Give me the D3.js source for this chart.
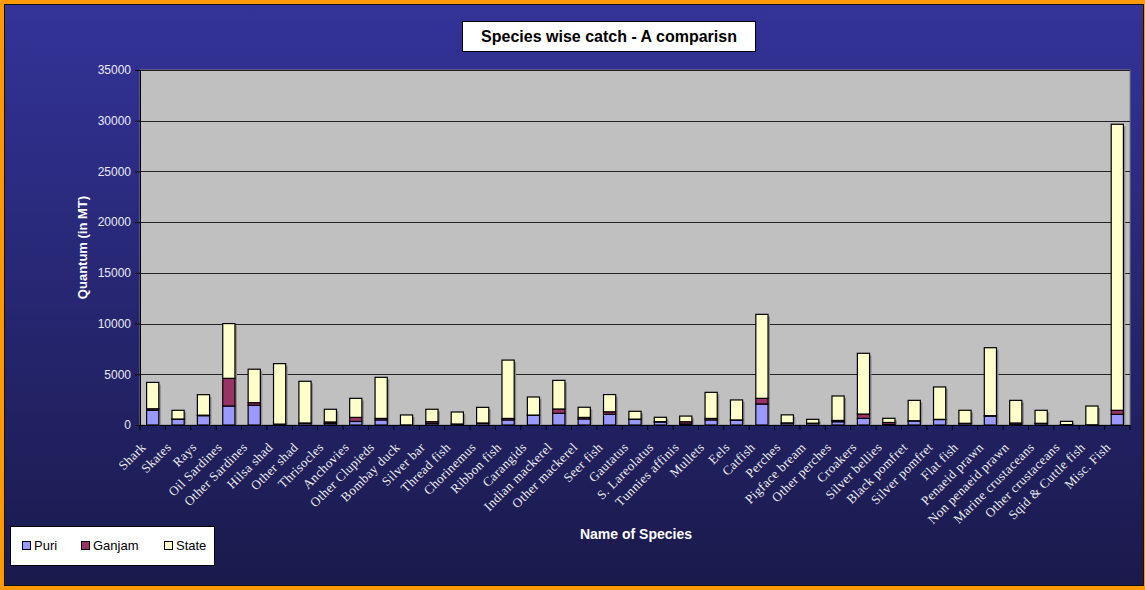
<!DOCTYPE html>
<html>
<head>
<meta charset="utf-8">
<script src="https://cdn.jsdelivr.net/npm/d3@7"></script>
<style>
  body { margin: 0; background: #ff9900; }
  svg { display: block; }
</style>
</head>
<body>
<svg id="chart" width="1145" height="590"></svg>
<script>
// species on the x axis
var species = ["Shark", "Skates", "Rays", "Oil Sardines", "Other Sardines", "Hilsa shad", "Other shad",
  "Thrisocles", "Anchovies", "Other Clupieds", "Bombay duck", "Silver bar", "Thread fish", "Chorinemus",
  "Ribbon fish", "Carangids", "Indian mackerel", "Other mackerel", "Seer fish", "Gautatus", "S. Lareolatus",
  "Tunnies affinis", "Mullets", "Eels", "Catfish", "Perches", "Pigface bream", "Other perches", "Croakers",
  "Silver bellies", "Black pomfret", "Silver pomfret", "Flat fish", "Penaeid prawn", "Non penaeid prawn",
  "Marine crustaceans", "Other crustaceans", "Sqid & Cuttle fish", "Misc. Fish"];

var puri   = [1450, 560, 920, 1870, 1950, 30, 180, 150, 350, 500, 0, 150, 80, 180,
  500, 950, 1150, 600, 1050, 550, 300, 100, 500, 480, 2070, 200, 170, 320, 650,
  50, 400, 540, 150, 880, 30, 150, 30, 0, 1050];
var ganjam = [150, 30, 50, 2730, 250, 60, 20, 150, 400, 150, 10, 180, 20, 20,
  150, 30, 430, 150, 250, 30, 30, 220, 150, 20, 560, 10, 10, 130, 430,
  200, 20, 20, 20, 40, 170, 20, 10, 20, 400];
var state  = [2600, 860, 2020, 5400, 3300, 5960, 4110, 1250, 1880, 4050, 980, 1220, 1180, 1540,
  5750, 1780, 2820, 1000, 1700, 770, 430, 560, 2570, 1970, 8280, 790, 380, 2410, 5990,
  410, 2010, 3190, 1280, 6700, 2230, 1280, 320, 1850, 28200];

var seriesNames = ["Puri", "Ganjam", "State"];
var seriesColors = ["#9999ff", "#993366", "#ffffcc"];
var yTicks = [0, 5000, 10000, 15000, 20000, 25000, 30000, 35000];

var svg = d3.select("#chart");
var W = 1145, H = 590;

// background with gradient
var defs = svg.append("defs");
var grad = defs.append("linearGradient").attr("id", "bg").attr("x1", 0).attr("y1", 0).attr("x2", 0).attr("y2", 1);
grad.append("stop").attr("offset", "0%").attr("stop-color", "#333399");
grad.append("stop").attr("offset", "100%").attr("stop-color", "#1a1a4c");

svg.append("rect").attr("x", 0).attr("y", 0).attr("width", W).attr("height", H).attr("fill", "#ff9900");
svg.append("rect").attr("x", 4.5).attr("y", 4.5).attr("width", W - 6).attr("height", H - 9)
  .attr("fill", "url(#bg)").attr("stroke", "#111").attr("stroke-width", 1);

var margin = {left: 140, right: 1130, top: 70, bottom: 425};

var x = d3.scaleBand().domain(species).range([margin.left, margin.right]).paddingInner(0.52).paddingOuter(0.26);
var y = d3.scaleLinear().domain([0, 35000]).range([margin.bottom, margin.top]);

// plot area
svg.append("rect").attr("x", margin.left).attr("y", margin.top)
  .attr("width", margin.right - margin.left).attr("height", margin.bottom - margin.top)
  .attr("fill", "#c0c0c0").attr("stroke", "#808080").attr("stroke-width", 1);

// gridlines
svg.append("g").selectAll("line").data(yTicks.slice(1)).enter().append("line")
  .attr("x1", margin.left).attr("x2", margin.right)
  .attr("y1", function(d){ return Math.round(y(d)) + 0.5; })
  .attr("y2", function(d){ return Math.round(y(d)) + 0.5; })
  .attr("stroke", "#222").attr("stroke-width", 1);

// stacked data
var rows = species.map(function(s, i){ return {name: s, Puri: puri[i], Ganjam: ganjam[i], State: state[i]}; });
var stack = d3.stack().keys(seriesNames)(rows);

// bar shadows
svg.append("g").selectAll("rect").data(rows).enter().append("rect")
  .attr("x", function(d){ return x(d.name) + 2; })
  .attr("y", function(d){ return y(d.Puri + d.Ganjam + d.State) + 2; })
  .attr("width", x.bandwidth())
  .attr("height", function(d){ return y(0) - y(d.Puri + d.Ganjam + d.State) - 2; })
  .attr("fill", "#8a8a8a");

svg.append("g").selectAll("g").data(stack).enter().append("g")
  .attr("fill", function(d, i){ return seriesColors[i]; })
  .selectAll("rect").data(function(d){ return d; }).enter().append("rect")
  .attr("x", function(d){ return x(d.data.name); })
  .attr("y", function(d){ return y(d[1]); })
  .attr("width", x.bandwidth())
  .attr("height", function(d){ return Math.max(0, y(d[0]) - y(d[1])); })
  .attr("stroke", "#000").attr("stroke-width", 1.2);

// y axis
var yAxis = svg.append("g").attr("transform", "translate(" + margin.left + ",0)")
  .call(d3.axisLeft(y).tickValues(yTicks).tickSize(5).tickPadding(4).tickFormat(d3.format("d")));
yAxis.select(".domain").attr("stroke", "#000");
yAxis.selectAll("line").attr("stroke", "#000");
yAxis.selectAll("text").attr("fill", "#e8e8f4").style("font-family", "Arial, 'Liberation Sans', sans-serif").style("font-size", "12px");

// x axis with ticks at category boundaries
var step = (margin.right - margin.left) / species.length;
svg.append("line").attr("x1", margin.left).attr("x2", margin.right)
  .attr("y1", margin.bottom + 0.5).attr("y2", margin.bottom + 0.5).attr("stroke", "#000");
svg.append("g").selectAll("line").data(d3.range(species.length + 1)).enter().append("line")
  .attr("x1", function(i){ return margin.left + i * step; })
  .attr("x2", function(i){ return margin.left + i * step; })
  .attr("y1", margin.bottom).attr("y2", margin.bottom + 5)
  .attr("stroke", "#000");

svg.append("g").selectAll("text").data(species).enter().append("text")
  .attr("transform", function(d){ return "translate(" + (x(d) + x.bandwidth() / 2 - 6) + "," + (margin.bottom + 23) + ") rotate(-45)"; })
  .attr("text-anchor", "end")
  .attr("fill", "#eeeeee")
  .style("font-family", "'Liberation Serif', 'Times New Roman', serif")
  .style("font-size", "13px")
  .style("letter-spacing", "0.4px")
  .text(function(d){ return d; });

// axis titles
svg.append("text").attr("transform", "translate(87," + ((margin.top + margin.bottom) / 2) + ") rotate(-90)")
  .attr("text-anchor", "middle").attr("fill", "#fff")
  .style("font-family", "Arial, 'Liberation Sans', sans-serif").style("font-size", "13px").style("font-weight", "bold")
  .text("Quantum (in MT)");
svg.append("text").attr("x", 636).attr("y", 539)
  .attr("text-anchor", "middle").attr("fill", "#fff")
  .style("font-family", "Arial, 'Liberation Sans', sans-serif").style("font-size", "14px").style("font-weight", "bold")
  .text("Name of Species");

// title
svg.append("rect").attr("x", 462.5).attr("y", 21.5).attr("width", 293).attr("height", 30)
  .attr("fill", "#fff").attr("stroke", "#000");
svg.append("text").attr("x", 609).attr("y", 42)
  .attr("text-anchor", "middle").attr("fill", "#000")
  .style("font-family", "Arial, 'Liberation Sans', sans-serif").style("font-size", "16px").style("font-weight", "bold")
  .text("Species wise catch - A comparisn");

// legend
var legend = svg.append("g");
legend.append("rect").attr("x", 10.5).attr("y", 526.5).attr("width", 204).attr("height", 39)
  .attr("fill", "#fff").attr("stroke", "#000");
var legX = [22, 81, 164];
seriesNames.forEach(function(n, i){
  legend.append("rect").attr("x", legX[i] + 0.5).attr("y", 541.5).attr("width", 8).attr("height", 8)
    .attr("fill", seriesColors[i]).attr("stroke", "#000");
  legend.append("text").attr("x", legX[i] + 12).attr("y", 550)
    .attr("fill", "#000")
    .style("font-family", "Arial, 'Liberation Sans', sans-serif").style("font-size", "13px")
    .text(n);
});
</script>
</body>
</html>
